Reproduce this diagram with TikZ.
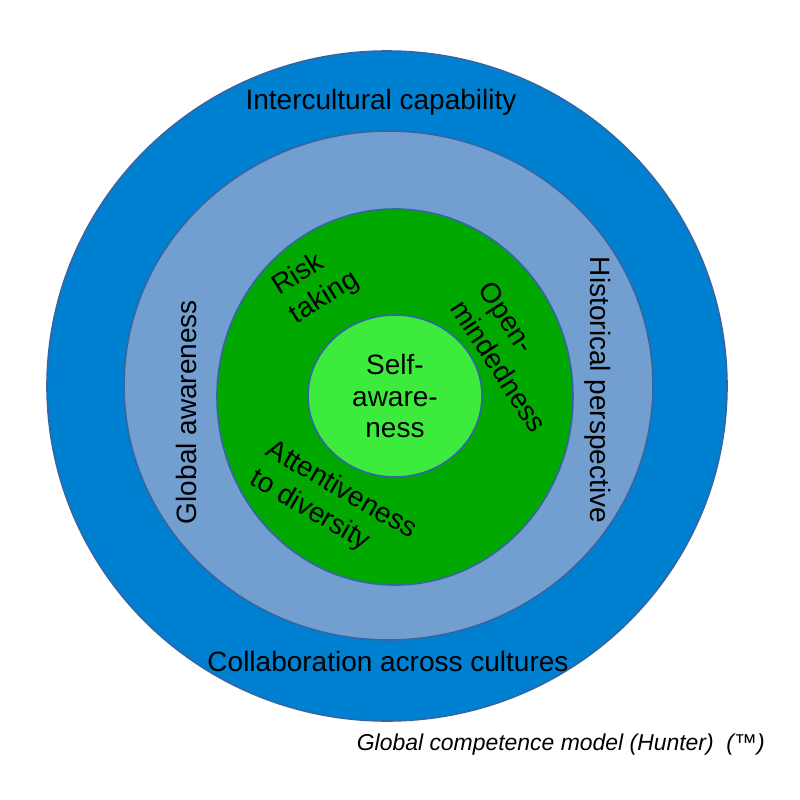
\documentclass[tikz,border=0pt]{standalone}
\usepackage{fontspec}
\setmainfont{Liberation Sans}
\definecolor{ringblue}{HTML}{0080D0}
\definecolor{ringlight}{HTML}{729FCF}
\definecolor{ringgreen}{HTML}{00A800}
\definecolor{ringcore}{HTML}{3DEB3D}
\definecolor{ringedge}{HTML}{3465A4}
\begin{document}
\begin{tikzpicture}[x=0.75pt,y=-0.75pt,
	ring/.style={draw=ringedge,line width=1.2pt},
	lbl/.style={font=\fontsize{21pt}{23.5pt}\selectfont,align=center,inner sep=0pt},
	lbll/.style={lbl,align=left,font=\fontsize{21pt}{25pt}\selectfont}]
			\useasboundingbox (0,0) rectangle (800,800);
			\draw[ring,fill=ringblue] (387,386) ellipse [x radius=340,y radius=335];
			\draw[ring,fill=ringlight] (388.5,385.5) ellipse [x radius=264.5,y radius=254.5];
			\draw[ring,fill=ringgreen] (395,397) ellipse [x radius=178,y radius=188];
			\draw[ring,fill=ringcore] (395,396) ellipse [x radius=87,y radius=81];
			\node[lbl] (cap) at (381,102) {Intercultural capability};
			\node[lbl] (collab) at (388,661) {Collaboration across cultures};
			\node[lbl,rotate=90] (global) at (186,412) {Global awareness};
			\node[lbl,rotate=-90] (hist) at (598,390) {Historical perspective};
			\node[lbl] (self) at (395,396) {Self-\\aware-\\ness};
			\node[lbll,rotate=32] (risk) at (316,284) {Risk\\taking};
			\node[lbll,rotate=-57] (open) at (513,357) {Open-\\mindedness};
			\node[lbll,rotate=-30] (attent) at (333,505) {Attentiveness\\to diversity};
			\node[font=\fontsize{17.2pt}{19pt}\selectfont\itshape,anchor=east,inner sep=0pt] (title) at (765,745) {Global competence model (Hunter)\ \ (™)};
			\end{tikzpicture}
\end{document}
